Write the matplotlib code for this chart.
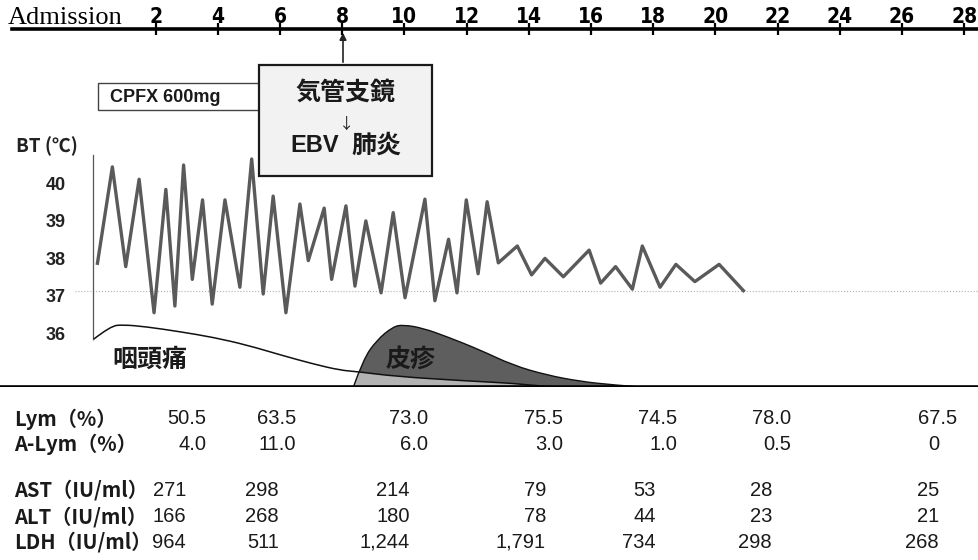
import matplotlib
matplotlib.use("Agg")
import matplotlib.pyplot as plt
import matplotlib.patches as mpatches
import matplotlib.transforms as mtransforms
from matplotlib.path import Path
import numpy as np

# body temperature (day after admission, degC)
bt_days = [0.13, 0.61, 1.04, 1.47, 1.95, 2.33, 2.62, 2.90, 3.18, 3.51, 3.82, 4.23,
           4.71, 5.09, 5.46, 5.78, 6.19, 6.64, 6.91, 7.42, 7.66, 8.12, 8.41, 8.76,
           9.25, 9.64, 10.02, 10.66, 10.98, 11.42, 11.69, 11.99, 12.37, 12.66, 13.02,
           13.63, 14.09, 14.52, 15.11, 15.94, 16.31, 16.79, 17.33, 17.65, 18.22,
           18.73, 19.34, 20.12, 20.90]
bt_vals = [37.74, 40.31, 37.65, 39.98, 36.42, 39.71, 36.60, 40.36, 37.31, 39.43,
           36.65, 39.43, 37.10, 40.52, 36.92, 39.53, 36.42, 39.32, 37.81, 39.21,
           37.31, 39.27, 37.13, 38.87, 36.95, 39.09, 36.82, 39.45, 36.74, 38.38,
           36.95, 39.43, 37.46, 39.38, 37.75, 38.20, 37.43, 37.87, 37.38, 38.09,
           37.21, 37.65, 37.05, 38.20, 37.10, 37.71, 37.25, 37.71, 37.01]
bt_ticks = [36, 37, 38, 39, 40]
day_ticks = list(range(2, 29, 2))

# symptom intensity (relative)
throat_days = [0.0, 0.55, 0.95, 1.71, 2.78, 3.85, 4.93, 6.0, 7.06, 7.93, 8.47,
               9.75, 11.88, 14.0, 14.62]
throat_lvl = [0.68, 0.87, 0.89, 0.86, 0.79, 0.71, 0.60, 0.46, 0.33, 0.24, 0.22,
              0.15, 0.09, 0.04, 0.0]
rash_days = [8.36, 8.67, 9.11, 9.63, 9.96, 10.6, 11.36, 12.43, 13.49, 14.58,
             15.65, 16.71, 17.58]
rash_lvl = [0.0, 0.39, 0.67, 0.86, 0.89, 0.84, 0.72, 0.53, 0.31, 0.17, 0.08,
            0.03, 0.0]

# lab table
row_labels = ["Lym（%）", "A-Lym（%）", "AST（IU/ml）", "ALT（IU/ml）", "LDH（IU/ml）"]
lym = [50.5, 63.5, 73.0, 75.5, 74.5, 78.0, 67.5]
alym = [4.0, 11.0, 6.0, 3.0, 1.0, 0.5, 0]
ast = [271, 298, 214, 79, 53, 28, 25]
alt = [166, 268, 180, 78, 44, 23, 21]
ldh = [964, 511, 1244, 1791, 734, 298, 268]

W, H = 979, 560
DAY0, DAYPX = 93.4, 31.1
Y37, DEGPX = 291, 37.5
CJK = ["Noto Sans CJK JP", "DejaVu Sans"]
SANS = ["Liberation Sans", "DejaVu Sans"]


def fx(x):
    return x / W


def fy(y):
    return 1 - y / H


def px2day(x):
    return (x - DAY0) / DAYPX


def smooth_path(xs, ys, close_base=False):
    # quadratic B-spline through midpoints
    pts = list(zip(xs, ys))
    verts = [pts[0]]
    codes = [Path.MOVETO]
    for i in range(1, len(pts) - 1):
        mid = ((pts[i][0] + pts[i + 1][0]) / 2, (pts[i][1] + pts[i + 1][1]) / 2)
        if i == len(pts) - 2:
            mid = pts[-1]
        verts += [pts[i], mid]
        codes += [Path.CURVE3, Path.CURVE3]
    if close_base:
        verts += [(xs[-1], 0), (xs[0], 0), (xs[0], 0)]
        codes += [Path.LINETO, Path.LINETO, Path.CLOSEPOLY]
    return Path(verts, codes)


fig = plt.figure(figsize=(W / 100, H / 100), dpi=100)

# ---- temperature panel
ax = fig.add_axes([0, 0, 1, 1])
ax.set_xlim(px2day(0), px2day(W))
ax.set_ylim(37 - (H - Y37) / DEGPX, 37 + Y37 / DEGPX)
ax.patch.set_visible(False)
for s in ["top", "right", "bottom"]:
    ax.spines[s].set_visible(False)
ax.spines["left"].set_position(("data", 0))
ax.spines["left"].set_bounds(37 - (340 - Y37) / DEGPX, 37 + (Y37 - 155) / DEGPX)
ax.spines["left"].set_color("#555555")
ax.spines["left"].set_linewidth(0.9)
ax.set_xticks([])
ax.set_yticks(bt_ticks)
ax.set_yticklabels([str(t) for t in bt_ticks], fontsize=13, fontweight="bold",
                   family=SANS, color="#222222")
ax.tick_params(axis="y", length=0, pad=20)
off = mtransforms.ScaledTranslation(0, -4.8 / 100, fig.dpi_scale_trans)
for lbl in ax.get_yticklabels():
    lbl.set_transform(lbl.get_transform() + off)

ax.plot([px2day(75), px2day(W)], [37, 37], color="#b0b0b0", lw=0.8, ls=":")
ax.plot(bt_days, bt_vals, color="#5a5a5a", lw=2.4)

fig.text(fx(16), fy(146), "BT (℃)", fontsize=13.5, fontweight="bold", family=CJK,
         ha="left", va="center", color="#222222")

# ---- symptoms
sx = fig.add_axes([0, fy(387), 1, 70 / H])
sx.set_xlim(px2day(0), px2day(W))
sx.set_ylim(0, 1)
sx.axis("off")
throat_fill = smooth_path(throat_days, throat_lvl, close_base=True)
rash_fill = smooth_path(rash_days, rash_lvl, close_base=True)
sx.add_patch(mpatches.PathPatch(throat_fill, facecolor="white", edgecolor="none", zorder=1))
rash_patch = mpatches.PathPatch(rash_fill, facecolor="#5e5e5e", edgecolor="none", zorder=2)
sx.add_patch(rash_patch)
overlap = mpatches.PathPatch(throat_fill, facecolor="#b3b3b3", edgecolor="none", zorder=3)
sx.add_patch(overlap)
overlap.set_clip_path(rash_patch)
sx.add_patch(mpatches.PathPatch(smooth_path(rash_days, rash_lvl), facecolor="none",
                                edgecolor="#111111", lw=1.0, zorder=4))
sx.add_patch(mpatches.PathPatch(smooth_path(throat_days, throat_lvl), facecolor="none",
                                edgecolor="#111111", lw=1.1, zorder=4))
sx.plot([px2day(0), px2day(W)], [0, 0], color="black", lw=2.6, zorder=5,
        solid_capstyle="butt")
fig.text(fx(150), fy(360), "咽頭痛", fontsize=18, fontweight="bold", family=CJK,
         ha="center", va="center", color="#1a1a1a")
fig.text(fx(411), fy(360), "皮疹", fontsize=18, fontweight="bold", family=CJK,
         ha="center", va="center", color="#1a1a1a")

# ---- top day axis
tx = fig.add_axes([fx(12), fy(29), 1 - fx(12), 0.0005])
tx.set_xlim(px2day(12), px2day(W))
tx.patch.set_visible(False)
for s in ["left", "right", "bottom"]:
    tx.spines[s].set_visible(False)
tx.spines["top"].set_linewidth(2.6)
tx.set_yticks([])
tx.set_xticks(day_ticks)
tx.xaxis.set_ticks_position("top")
tx.tick_params(axis="x", direction="inout", length=8, width=1.6, pad=-2.5,
               labelsize=15, top=True, bottom=False, labeltop=True, labelbottom=False)
for lbl in tx.get_xticklabels():
    lbl.set_fontweight("bold")
    lbl.set_family("DejaVu Sans")
    lbl.set_stretch("condensed")
fig.text(fx(8), fy(18), "Admission", fontsize=19, family=["Liberation Serif", "DejaVu Serif"],
         ha="left", va="center")

# ---- bronchoscopy box
fig.add_artist(mpatches.Rectangle((fx(98), fy(110)), fx(259 - 98), (110 - 83) / H,
                                  facecolor="white", edgecolor="#444444", lw=1.0))
fig.text(fx(110), fy(98), "CPFX 600mg", fontsize=13, fontweight="bold", family=SANS,
         ha="left", va="center", color="#1a1a1a")
fig.add_artist(mpatches.Rectangle((fx(259), fy(176)), fx(432 - 259), (176 - 65) / H,
                                  facecolor="#f2f2f2", edgecolor="#1a1a1a", lw=1.6))
ax.annotate("", xy=(fx(343), fy(30)), xytext=(fx(343), fy(65)),
            xycoords="figure fraction", textcoords="figure fraction",
            arrowprops=dict(arrowstyle="-|>", color="#222222", lw=1.2, mutation_scale=10))
fig.text(fx(345.5), fy(93), "気管支鏡", fontsize=18, fontweight="bold", family=CJK,
         ha="center", va="center", color="#1a1a1a")
fig.text(fx(346.5), fy(124), "↓", fontsize=11, family=CJK, ha="center", va="center",
         color="#222222")
fig.text(fx(339), fy(146), "EBV", fontsize=17, fontweight="bold", family=SANS,
         ha="right", va="center", color="#1a1a1a")
fig.text(fx(351), fy(146), "肺炎", fontsize=18, fontweight="bold", family=CJK,
         ha="left", va="center", color="#1a1a1a")

# ---- lab table
pct_x = [206.7, 296, 428.3, 563.3, 677, 790.7, 957.3]
alym_x = [206.7, 296, 428.3, 563.3, 677, 790.7, 939]
lab_x = [186, 279, 410, 546, 656, 772, 939]
row_y = [419, 444, 490, 517, 542]
rows = [
    ([f"{v:.1f}" for v in lym], pct_x),
    ([f"{v:.1f}" if v else "0" for v in alym], alym_x),
    ([f"{v:,}" for v in ast], lab_x),
    ([f"{v:,}" for v in alt], lab_x),
    ([f"{v:,}" for v in ldh], lab_x),
]
for label, (vals, xs), y in zip(row_labels, rows, row_y):
    fig.text(fx(14), fy(y), label, fontsize=14.5, fontweight="bold", family=CJK,
             ha="left", va="center", color="#1a1a1a")
    for v, x in zip(vals, xs):
        fig.text(fx(x), fy(y), v, fontsize=14.5, family=SANS, ha="right", va="center",
                 color="#1a1a1a")

fig.savefig("out.png", dpi=100)
